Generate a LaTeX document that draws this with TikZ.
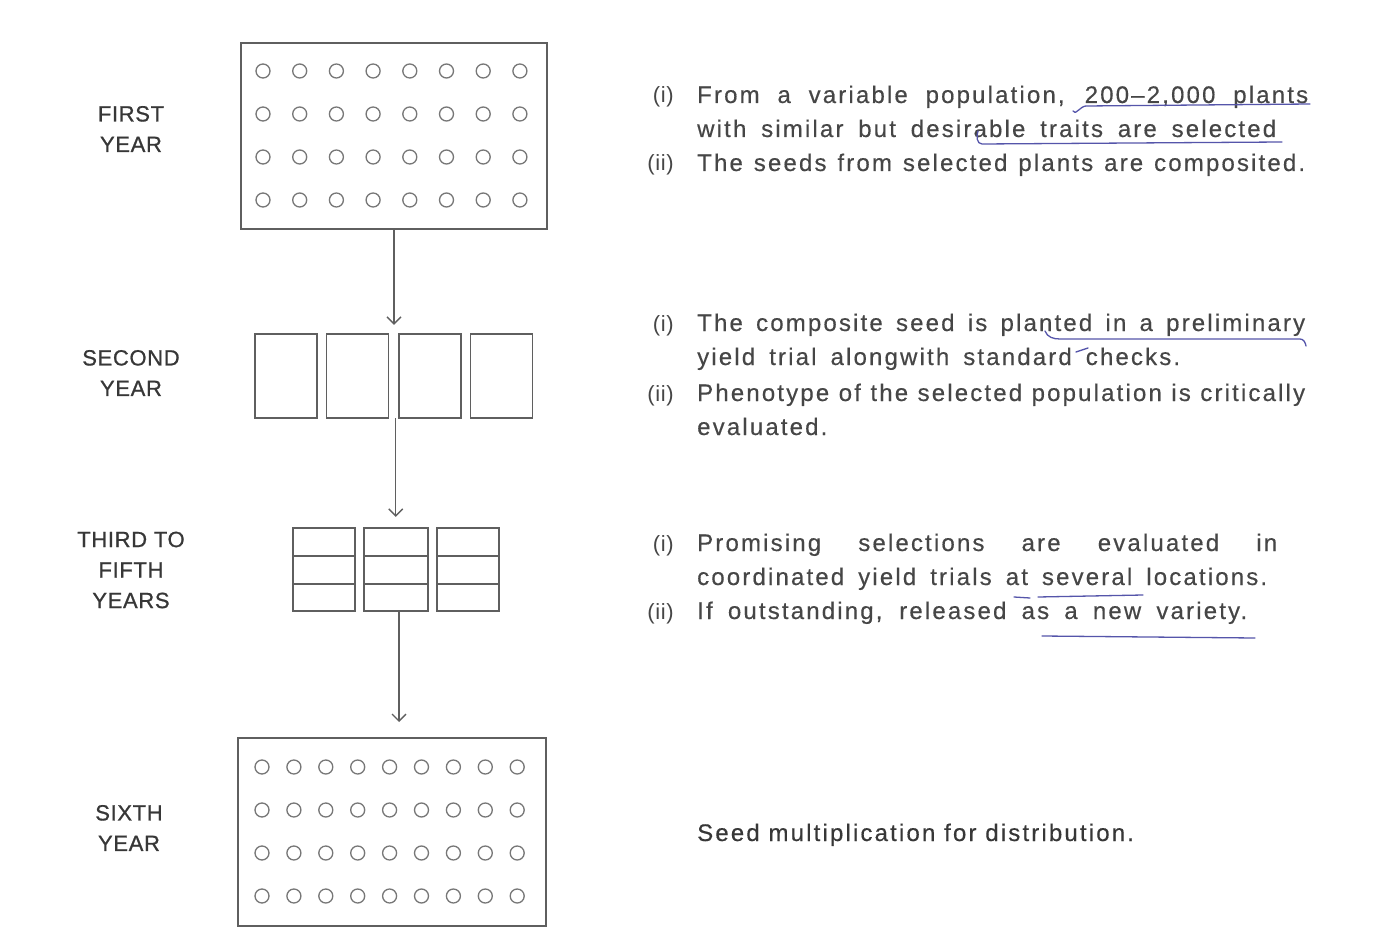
\documentclass[tikz,border=0pt]{standalone}
\usepackage{fontspec}
\setmainfont{Liberation Sans}
\newfontfamily\bodyfont[LetterSpace=9,FakeBold=0.4]{Liberation Sans}
\newfontfamily\labfont[LetterSpace=3,FakeBold=0.8]{Liberation Sans}
\newfontfamily\numfont[LetterSpace=3]{Liberation Sans}
\usetikzlibrary{arrows.meta,fit}
\definecolor{ink}{RGB}{70,70,70}
\definecolor{darkink}{RGB}{55,55,55}
\definecolor{lineink}{RGB}{95,95,95}
\definecolor{pen}{RGB}{85,85,170}
\begin{document}
\begin{tikzpicture}[x=1pt,y=-1pt,
  plot/.style={draw=lineink, line width=1.8pt, inner sep=0pt, outer sep=0pt},
  seed/.style={draw=lineink!85, line width=1.3pt},
  arr/.style={draw=lineink, line width=1.3pt, -{Straight Barb[length=7pt,width=14pt]}},
  yearlab/.style={text=darkink, font=\labfont\fontsize{22}{30.5}\selectfont, align=center, inner sep=0pt},
  txt/.style={text=ink, font=\bodyfont\fontsize{24}{24}\selectfont, anchor=base west, inner sep=0pt},
  num/.style={text=ink, font=\numfont\fontsize{22}{24}\selectfont, anchor=base east, inner sep=0pt},
  penline/.style={draw=pen, line width=1.3pt, line cap=round, line join=round}]
\useasboundingbox[fill=white] (0,0) rectangle (1376,941);

% ---- first year plot
\node[plot, minimum width=306pt, minimum height=186pt] (b1) at (394,136) {};
\foreach \i in {0,...,7}
  \foreach \j in {71,114,157,200}
    \draw[seed] (263+36.7*\i,\j) circle[radius=7pt];

% ---- second year plots
\node[plot, minimum width=62pt, minimum height=84pt] (s1) at (286,376) {};
\node[plot, minimum width=62pt, minimum height=84pt] (s2) at (357.5,376) {};
\node[plot, minimum width=62pt, minimum height=84pt] (s3) at (430,376) {};
\node[plot, minimum width=62pt, minimum height=84pt] (s4) at (501.5,376) {};
\node[fit=(s1)(s4), inner sep=0pt] (r2) {};

% ---- third to fifth year plots
\node[plot, minimum width=62pt, minimum height=83pt] (t1) at (324,569.5) {};
\node[plot, minimum width=64pt, minimum height=83pt] (t2) at (396,569.5) {};
\node[plot, minimum width=62pt, minimum height=83pt] (t3) at (468,569.5) {};
\node[fit=(t1)(t3), inner sep=0pt] (r3) {};
\foreach \a/\b in {293/355,364/428,437/499}
  \foreach \y in {556,584}
    \draw[plot] (\a,\y) -- (\b,\y);

% ---- sixth year plot
\node[plot, minimum width=308pt, minimum height=188pt] (b4) at (392,832) {};
\foreach \i in {0,...,8}
  \foreach \j in {767,810,853,896}
    \draw[seed] (262+31.9*\i,\j) circle[radius=7pt];

% ---- arrows
\draw[arr, shorten >=9pt] (b1.south) -- (b1.south |- r2.north);
\draw[arr, shorten >=11pt] ([xshift=2pt]r2.south) -- ([xshift=2pt]r2.south |- r3.north);
\draw[arr, shorten >=16pt] ([xshift=3pt]r3.south) -- ([xshift=3pt]r3.south |- b4.north);

% ---- year labels
\node[yearlab] (l1) at (131,129) {FIRST\\YEAR};
\node[yearlab] (l2) at (131,373) {SECOND\\YEAR};
\node[yearlab] (l3) at (131,570) {THIRD TO\\FIFTH\\YEARS};
\node[yearlab] (l4) at (129,828) {SIXTH\\YEAR};

% ---- block 1
\node[num] (n1a) at (674,103) {(i)};
\node[txt] (p1a) at (697,103) {\makebox[611pt][s]{From a variable population, 200–2,000 plants}};
\node[txt] (p1b) at (697,137) {\makebox[579pt][s]{with similar but desirable traits are selected}};
\node[num] (n1b) at (674,171) {(ii)};
\node[txt] (p1c) at (697,171) {\makebox[608pt][s]{The seeds from selected plants are composited.}};

% ---- block 2
\node[num] (n2a) at (674,331) {(i)};
\node[txt] (p2a) at (697,331) {\makebox[608pt][s]{The composite seed is planted in a preliminary}};
\node[txt] (p2b) at (697,365) {\makebox[483pt][s]{yield trial alongwith standard checks.}};
\node[num] (n2b) at (674,401) {(ii)};
\node[txt] (p2c) at (697,401) {\makebox[608pt][s]{Phenotype of the selected population is critically}};
\node[txt] (p2d) at (697,435) {evaluated.};

% ---- block 3
\node[num] (n3a) at (674,551) {(i)};
\node[txt] (p3a) at (697,551) {\makebox[580pt][s]{Promising selections are evaluated in}};
\node[txt] (p3b) at (697,585) {\makebox[570pt][s]{coordinated yield trials at several locations.}};
\node[num] (n3b) at (674,619) {(ii)};
\node[txt] (p3c) at (697,619) {\makebox[550pt][s]{If outstanding, released as a new variety.}};

% ---- block 4
\node[txt, text=darkink] (p4) at (697,841) {Seed multiplication for distribution.};

% ---- pen marks
\draw[penline] (1073,111) to[out=-70,in=180] (1086,106) -- (1310,104);
\draw[penline] (978,131) to[out=-110,in=180] (982,144) -- (1282,142);
\draw[penline] (1045,331) to[out=-70,in=180] (1060,339) -- (1300,339) to[out=0,in=100] (1306,346);
\draw[penline] (1076,352) -- (1088,348);
\draw[penline] (1038,597) -- (1143,595);
\draw[penline] (1014,597) -- (1030,598);
\draw[penline] (1042,636) -- (1255,638);
\end{tikzpicture}
\end{document}
